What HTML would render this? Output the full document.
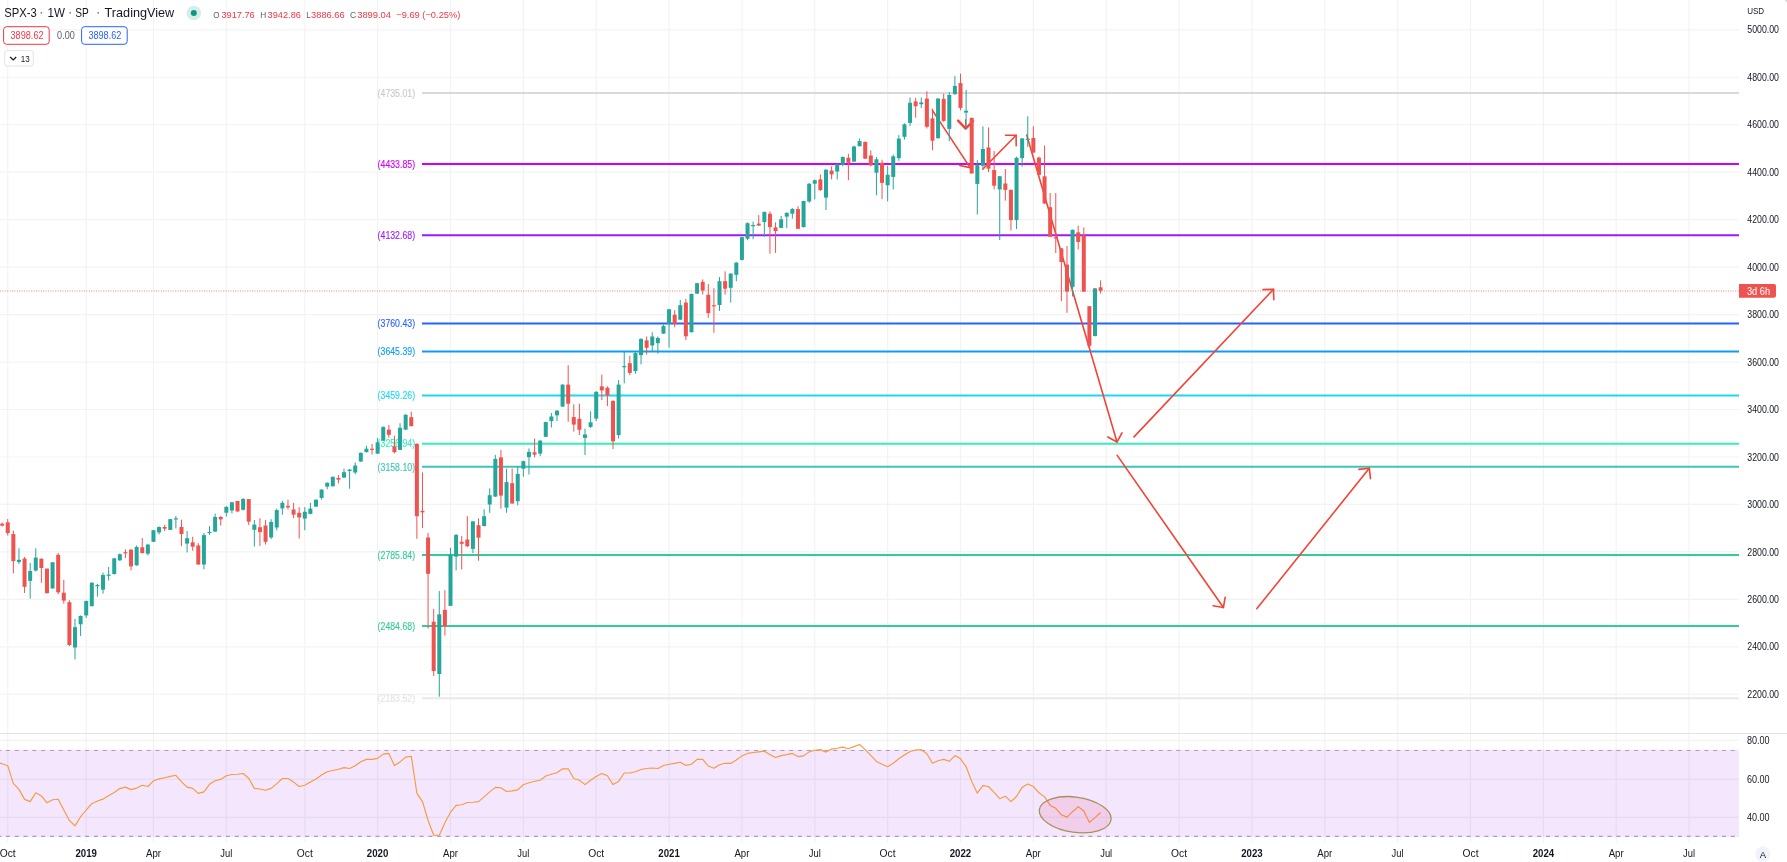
<!DOCTYPE html><html><head><meta charset="utf-8"><style>html,body{margin:0;padding:0;background:#fff;width:1787px;height:862px;overflow:hidden}svg{display:block;will-change:transform}text{font-family:"Liberation Sans",sans-serif}</style></head><body>
<svg width="1787" height="862" viewBox="0 0 1787 862">
<rect width="1787" height="862" fill="#fff"/>
<line x1="7.74" y1="0" x2="7.74" y2="842.6" stroke="#f3f3f3" stroke-width="1.2"/>
<line x1="86.21" y1="0" x2="86.21" y2="842.6" stroke="#f3f3f3" stroke-width="1.2"/>
<line x1="153.46" y1="0" x2="153.46" y2="842.6" stroke="#f3f3f3" stroke-width="1.2"/>
<line x1="226.32" y1="0" x2="226.32" y2="842.6" stroke="#f3f3f3" stroke-width="1.2"/>
<line x1="304.78" y1="0" x2="304.78" y2="842.6" stroke="#f3f3f3" stroke-width="1.2"/>
<line x1="377.63" y1="0" x2="377.63" y2="842.6" stroke="#f3f3f3" stroke-width="1.2"/>
<line x1="450.49" y1="0" x2="450.49" y2="842.6" stroke="#f3f3f3" stroke-width="1.2"/>
<line x1="523.35" y1="0" x2="523.35" y2="842.6" stroke="#f3f3f3" stroke-width="1.2"/>
<line x1="596.21" y1="0" x2="596.21" y2="842.6" stroke="#f3f3f3" stroke-width="1.2"/>
<line x1="669.06" y1="0" x2="669.06" y2="842.6" stroke="#f3f3f3" stroke-width="1.2"/>
<line x1="741.92" y1="0" x2="741.92" y2="842.6" stroke="#f3f3f3" stroke-width="1.2"/>
<line x1="814.78" y1="0" x2="814.78" y2="842.6" stroke="#f3f3f3" stroke-width="1.2"/>
<line x1="887.64" y1="0" x2="887.64" y2="842.6" stroke="#f3f3f3" stroke-width="1.2"/>
<line x1="960.49" y1="0" x2="960.49" y2="842.6" stroke="#f3f3f3" stroke-width="1.2"/>
<line x1="1033.35" y1="0" x2="1033.35" y2="842.6" stroke="#f3f3f3" stroke-width="1.2"/>
<line x1="1106.21" y1="0" x2="1106.21" y2="842.6" stroke="#f3f3f3" stroke-width="1.2"/>
<line x1="1179.06" y1="0" x2="1179.06" y2="842.6" stroke="#f3f3f3" stroke-width="1.2"/>
<line x1="1251.92" y1="0" x2="1251.92" y2="842.6" stroke="#f3f3f3" stroke-width="1.2"/>
<line x1="1324.78" y1="0" x2="1324.78" y2="842.6" stroke="#f3f3f3" stroke-width="1.2"/>
<line x1="1397.64" y1="0" x2="1397.64" y2="842.6" stroke="#f3f3f3" stroke-width="1.2"/>
<line x1="1470.49" y1="0" x2="1470.49" y2="842.6" stroke="#f3f3f3" stroke-width="1.2"/>
<line x1="1543.35" y1="0" x2="1543.35" y2="842.6" stroke="#f3f3f3" stroke-width="1.2"/>
<line x1="1616.21" y1="0" x2="1616.21" y2="842.6" stroke="#f3f3f3" stroke-width="1.2"/>
<line x1="1689.06" y1="0" x2="1689.06" y2="842.6" stroke="#f3f3f3" stroke-width="1.2"/>
<line x1="0" y1="29.80" x2="1739" y2="29.80" stroke="#f3f3f3" stroke-width="1.2"/>
<line x1="0" y1="77.26" x2="1739" y2="77.26" stroke="#f3f3f3" stroke-width="1.2"/>
<line x1="0" y1="124.73" x2="1739" y2="124.73" stroke="#f3f3f3" stroke-width="1.2"/>
<line x1="0" y1="172.19" x2="1739" y2="172.19" stroke="#f3f3f3" stroke-width="1.2"/>
<line x1="0" y1="219.66" x2="1739" y2="219.66" stroke="#f3f3f3" stroke-width="1.2"/>
<line x1="0" y1="267.12" x2="1739" y2="267.12" stroke="#f3f3f3" stroke-width="1.2"/>
<line x1="0" y1="314.58" x2="1739" y2="314.58" stroke="#f3f3f3" stroke-width="1.2"/>
<line x1="0" y1="362.05" x2="1739" y2="362.05" stroke="#f3f3f3" stroke-width="1.2"/>
<line x1="0" y1="409.51" x2="1739" y2="409.51" stroke="#f3f3f3" stroke-width="1.2"/>
<line x1="0" y1="456.98" x2="1739" y2="456.98" stroke="#f3f3f3" stroke-width="1.2"/>
<line x1="0" y1="504.44" x2="1739" y2="504.44" stroke="#f3f3f3" stroke-width="1.2"/>
<line x1="0" y1="551.90" x2="1739" y2="551.90" stroke="#f3f3f3" stroke-width="1.2"/>
<line x1="0" y1="599.37" x2="1739" y2="599.37" stroke="#f3f3f3" stroke-width="1.2"/>
<line x1="0" y1="646.83" x2="1739" y2="646.83" stroke="#f3f3f3" stroke-width="1.2"/>
<line x1="0" y1="694.30" x2="1739" y2="694.30" stroke="#f3f3f3" stroke-width="1.2"/>
<rect x="0" y="749.7" width="1739" height="87.2" fill="#f3e6fd"/>
<line x1="0" y1="740.2" x2="1739" y2="740.2" stroke="#f0f0f0" stroke-width="1.1"/>
<line x1="0" y1="779.4" x2="1739" y2="779.4" stroke="#e6dcef" stroke-width="1.1"/>
<line x1="0" y1="817.4" x2="1739" y2="817.4" stroke="#e6dcef" stroke-width="1.1"/>
<line x1="7.74" y1="749.7" x2="7.74" y2="836.9" stroke="#e6dcf2" stroke-width="1.2"/>
<line x1="86.21" y1="749.7" x2="86.21" y2="836.9" stroke="#e6dcf2" stroke-width="1.2"/>
<line x1="153.46" y1="749.7" x2="153.46" y2="836.9" stroke="#e6dcf2" stroke-width="1.2"/>
<line x1="226.32" y1="749.7" x2="226.32" y2="836.9" stroke="#e6dcf2" stroke-width="1.2"/>
<line x1="304.78" y1="749.7" x2="304.78" y2="836.9" stroke="#e6dcf2" stroke-width="1.2"/>
<line x1="377.63" y1="749.7" x2="377.63" y2="836.9" stroke="#e6dcf2" stroke-width="1.2"/>
<line x1="450.49" y1="749.7" x2="450.49" y2="836.9" stroke="#e6dcf2" stroke-width="1.2"/>
<line x1="523.35" y1="749.7" x2="523.35" y2="836.9" stroke="#e6dcf2" stroke-width="1.2"/>
<line x1="596.21" y1="749.7" x2="596.21" y2="836.9" stroke="#e6dcf2" stroke-width="1.2"/>
<line x1="669.06" y1="749.7" x2="669.06" y2="836.9" stroke="#e6dcf2" stroke-width="1.2"/>
<line x1="741.92" y1="749.7" x2="741.92" y2="836.9" stroke="#e6dcf2" stroke-width="1.2"/>
<line x1="814.78" y1="749.7" x2="814.78" y2="836.9" stroke="#e6dcf2" stroke-width="1.2"/>
<line x1="887.64" y1="749.7" x2="887.64" y2="836.9" stroke="#e6dcf2" stroke-width="1.2"/>
<line x1="960.49" y1="749.7" x2="960.49" y2="836.9" stroke="#e6dcf2" stroke-width="1.2"/>
<line x1="1033.35" y1="749.7" x2="1033.35" y2="836.9" stroke="#e6dcf2" stroke-width="1.2"/>
<line x1="1106.21" y1="749.7" x2="1106.21" y2="836.9" stroke="#e6dcf2" stroke-width="1.2"/>
<line x1="1179.06" y1="749.7" x2="1179.06" y2="836.9" stroke="#e6dcf2" stroke-width="1.2"/>
<line x1="1251.92" y1="749.7" x2="1251.92" y2="836.9" stroke="#e6dcf2" stroke-width="1.2"/>
<line x1="1324.78" y1="749.7" x2="1324.78" y2="836.9" stroke="#e6dcf2" stroke-width="1.2"/>
<line x1="1397.64" y1="749.7" x2="1397.64" y2="836.9" stroke="#e6dcf2" stroke-width="1.2"/>
<line x1="1470.49" y1="749.7" x2="1470.49" y2="836.9" stroke="#e6dcf2" stroke-width="1.2"/>
<line x1="1543.35" y1="749.7" x2="1543.35" y2="836.9" stroke="#e6dcf2" stroke-width="1.2"/>
<line x1="1616.21" y1="749.7" x2="1616.21" y2="836.9" stroke="#e6dcf2" stroke-width="1.2"/>
<line x1="1689.06" y1="749.7" x2="1689.06" y2="836.9" stroke="#e6dcf2" stroke-width="1.2"/>
<line x1="0" y1="750.5" x2="1739" y2="750.5" stroke="#a99fb8" stroke-width="1.1" stroke-dasharray="4.1 4.7" stroke-dashoffset="2.9"/>
<line x1="0" y1="836.4" x2="1739" y2="836.4" stroke="#a99fb8" stroke-width="1.1" stroke-dasharray="4.1 4.7" stroke-dashoffset="2.9"/>
<line x1="0" y1="733.5" x2="1787" y2="733.5" stroke="#dfe2ec" stroke-width="1"/>
<line x1="422" y1="92.9" x2="1739" y2="92.9" stroke="#d9d9d9" stroke-width="2"/>
<text x="377.6" y="96.6" font-size="10.2" fill="#c8c8c8" stroke="#c8c8c8" stroke-width="0.12" textLength="37.5" lengthAdjust="spacingAndGlyphs">(4735.01)</text>
<line x1="422" y1="164.1" x2="1739" y2="164.1" stroke="#cc00ff" stroke-width="2"/>
<text x="377.6" y="167.8" font-size="10.2" fill="#cc00ff" stroke="#cc00ff" stroke-width="0.12" textLength="37.5" lengthAdjust="spacingAndGlyphs">(4433.85)</text>
<line x1="422" y1="235.2" x2="1739" y2="235.2" stroke="#9c1aff" stroke-width="2"/>
<text x="377.6" y="238.9" font-size="10.2" fill="#9c1aff" stroke="#9c1aff" stroke-width="0.12" textLength="37.5" lengthAdjust="spacingAndGlyphs">(4132.68)</text>
<line x1="422" y1="323.4" x2="1739" y2="323.4" stroke="#2962ff" stroke-width="2"/>
<text x="377.6" y="327.1" font-size="10.2" fill="#2962ff" stroke="#2962ff" stroke-width="0.12" textLength="37.5" lengthAdjust="spacingAndGlyphs">(3760.43)</text>
<line x1="422" y1="351.4" x2="1739" y2="351.4" stroke="#0f9cf5" stroke-width="2"/>
<text x="377.6" y="355.1" font-size="10.2" fill="#0f9cf5" stroke="#0f9cf5" stroke-width="0.12" textLength="37.5" lengthAdjust="spacingAndGlyphs">(3645.39)</text>
<line x1="422" y1="395.6" x2="1739" y2="395.6" stroke="#1fd6f5" stroke-width="2"/>
<text x="377.6" y="399.3" font-size="10.2" fill="#1fd6f5" stroke="#1fd6f5" stroke-width="0.12" textLength="37.5" lengthAdjust="spacingAndGlyphs">(3459.26)</text>
<line x1="422" y1="443.7" x2="1739" y2="443.7" stroke="#33f0bb" stroke-width="2"/>
<text x="377.6" y="447.4" font-size="10.2" fill="#33f0bb" stroke="#33f0bb" stroke-width="0.12" textLength="37.5" lengthAdjust="spacingAndGlyphs">(3256.94)</text>
<line x1="422" y1="466.8" x2="1739" y2="466.8" stroke="#3ec4b6" stroke-width="2"/>
<text x="377.6" y="470.5" font-size="10.2" fill="#3ec4b6" stroke="#3ec4b6" stroke-width="0.12" textLength="37.5" lengthAdjust="spacingAndGlyphs">(3158.10)</text>
<line x1="422" y1="554.9" x2="1739" y2="554.9" stroke="#33cc99" stroke-width="2"/>
<text x="377.6" y="558.6" font-size="10.2" fill="#33cc99" stroke="#33cc99" stroke-width="0.12" textLength="37.5" lengthAdjust="spacingAndGlyphs">(2785.84)</text>
<line x1="422" y1="625.9" x2="1739" y2="625.9" stroke="#33cc99" stroke-width="2"/>
<text x="377.6" y="629.6" font-size="10.2" fill="#33cc99" stroke="#33cc99" stroke-width="0.12" textLength="37.5" lengthAdjust="spacingAndGlyphs">(2484.68)</text>
<line x1="422" y1="698.2" x2="1739" y2="698.2" stroke="#e8e8e8" stroke-width="2"/>
<text x="377.6" y="701.9" font-size="10.2" fill="#e3e3e3" stroke="#e3e3e3" stroke-width="0.12" textLength="37.5" lengthAdjust="spacingAndGlyphs">(2183.52)</text>
<line x1="932.3" y1="110.1" x2="970.1" y2="167.6" stroke="#f44336" stroke-width="1.6" stroke-linecap="round"/>
<polyline points="959.8,165.5 970.1,167.6 972.2,157.3" fill="none" stroke="#f44336" stroke-width="1.6" stroke-linecap="round" stroke-linejoin="round"/>
<line x1="965.6" y1="119.3" x2="965.7" y2="129" stroke="#f44336" stroke-width="1.2"/>
<polyline points="958.1,120.6 965.7,128.6 973,121" fill="none" stroke="#f44336" stroke-width="2.4" stroke-linecap="round" stroke-linejoin="round"/>
<line x1="982.7" y1="169.2" x2="1016.1" y2="135.2" stroke="#f44336" stroke-width="1.6" stroke-linecap="round"/>
<polyline points="1016.2,145.7 1016.1,135.2 1005.6,135.3" fill="none" stroke="#f44336" stroke-width="1.6" stroke-linecap="round" stroke-linejoin="round"/>
<line x1="1026.7" y1="135" x2="1117" y2="442" stroke="#f44336" stroke-width="1.6" stroke-linecap="round"/>
<polyline points="1107.8,437.0 1117,442 1122.0,432.8" fill="none" stroke="#f44336" stroke-width="1.6" stroke-linecap="round" stroke-linejoin="round"/>
<line x1="1134" y1="436.9" x2="1273.5" y2="289.3" stroke="#f44336" stroke-width="1.6" stroke-linecap="round"/>
<polyline points="1273.8,299.8 1273.5,289.3 1263.0,289.6" fill="none" stroke="#f44336" stroke-width="1.6" stroke-linecap="round" stroke-linejoin="round"/>
<line x1="1117.2" y1="455.4" x2="1223.4" y2="607.5" stroke="#f44336" stroke-width="1.6" stroke-linecap="round"/>
<polyline points="1213.1,605.7 1223.4,607.5 1225.2,597.2" fill="none" stroke="#f44336" stroke-width="1.6" stroke-linecap="round" stroke-linejoin="round"/>
<line x1="1256.9" y1="608.6" x2="1369.3" y2="468.2" stroke="#f44336" stroke-width="1.6" stroke-linecap="round"/>
<polyline points="1370.5,478.6 1369.3,468.2 1358.9,469.4" fill="none" stroke="#f44336" stroke-width="1.6" stroke-linecap="round" stroke-linejoin="round"/>
<rect x="1.64" y="522.5" width="1" height="4.0" fill="#ef5350"/>
<rect x="0.14" y="523.7" width="4" height="1.9" fill="#ef5350"/>
<rect x="7.24" y="519.0" width="1" height="16.5" fill="#ef5350"/>
<rect x="5.74" y="522.3" width="4" height="10.8" fill="#ef5350"/>
<rect x="12.85" y="530.6" width="1" height="42.8" fill="#ef5350"/>
<rect x="11.35" y="534.1" width="4" height="27.0" fill="#ef5350"/>
<rect x="18.45" y="548.3" width="1" height="15.8" fill="#26a69a"/>
<rect x="16.95" y="559.8" width="4" height="2.3" fill="#26a69a"/>
<rect x="24.06" y="557.0" width="1" height="36.0" fill="#ef5350"/>
<rect x="22.56" y="558.6" width="4" height="28.2" fill="#ef5350"/>
<rect x="29.66" y="563.0" width="1" height="35.6" fill="#26a69a"/>
<rect x="28.16" y="571.0" width="4" height="9.9" fill="#26a69a"/>
<rect x="35.27" y="548.3" width="1" height="23.1" fill="#26a69a"/>
<rect x="33.77" y="557.6" width="4" height="13.0" fill="#26a69a"/>
<rect x="40.87" y="558.2" width="1" height="24.6" fill="#ef5350"/>
<rect x="39.37" y="558.8" width="4" height="9.2" fill="#ef5350"/>
<rect x="46.48" y="568.6" width="1" height="25.0" fill="#ef5350"/>
<rect x="44.98" y="568.6" width="4" height="24.5" fill="#ef5350"/>
<rect x="52.08" y="562.0" width="1" height="26.8" fill="#26a69a"/>
<rect x="50.58" y="562.3" width="4" height="26.1" fill="#26a69a"/>
<rect x="57.68" y="552.9" width="1" height="41.4" fill="#ef5350"/>
<rect x="56.18" y="554.8" width="4" height="37.5" fill="#ef5350"/>
<rect x="63.29" y="579.9" width="1" height="23.7" fill="#ef5350"/>
<rect x="61.79" y="592.7" width="4" height="7.9" fill="#ef5350"/>
<rect x="68.89" y="600.2" width="1" height="45.8" fill="#ef5350"/>
<rect x="67.39" y="602.2" width="4" height="42.8" fill="#ef5350"/>
<rect x="74.50" y="618.9" width="1" height="40.5" fill="#26a69a"/>
<rect x="73.00" y="627.2" width="4" height="20.3" fill="#26a69a"/>
<rect x="80.10" y="615.4" width="1" height="20.6" fill="#26a69a"/>
<rect x="78.60" y="616.0" width="4" height="8.3" fill="#26a69a"/>
<rect x="85.71" y="600.6" width="1" height="17.4" fill="#26a69a"/>
<rect x="84.21" y="601.0" width="4" height="14.4" fill="#26a69a"/>
<rect x="91.31" y="582.0" width="1" height="24.5" fill="#26a69a"/>
<rect x="89.81" y="582.8" width="4" height="23.3" fill="#26a69a"/>
<rect x="96.91" y="583.8" width="1" height="12.8" fill="#26a69a"/>
<rect x="95.41" y="585.0" width="4" height="1.2" fill="#26a69a"/>
<rect x="102.52" y="572.6" width="1" height="21.1" fill="#26a69a"/>
<rect x="101.02" y="575.0" width="4" height="14.7" fill="#26a69a"/>
<rect x="108.12" y="567.0" width="1" height="13.5" fill="#26a69a"/>
<rect x="106.62" y="574.6" width="4" height="1.2" fill="#26a69a"/>
<rect x="113.73" y="557.8" width="1" height="16.8" fill="#26a69a"/>
<rect x="112.23" y="558.4" width="4" height="15.6" fill="#26a69a"/>
<rect x="119.33" y="553.5" width="1" height="7.5" fill="#26a69a"/>
<rect x="117.83" y="554.2" width="4" height="6.1" fill="#26a69a"/>
<rect x="124.94" y="549.4" width="1" height="8.6" fill="#ef5350"/>
<rect x="123.44" y="552.2" width="4" height="1.2" fill="#ef5350"/>
<rect x="130.54" y="549.4" width="1" height="21.1" fill="#ef5350"/>
<rect x="129.04" y="549.6" width="4" height="16.8" fill="#ef5350"/>
<rect x="136.15" y="545.5" width="1" height="20.3" fill="#26a69a"/>
<rect x="134.65" y="547.0" width="4" height="18.3" fill="#26a69a"/>
<rect x="141.75" y="538.0" width="1" height="15.3" fill="#ef5350"/>
<rect x="140.25" y="547.3" width="4" height="5.8" fill="#ef5350"/>
<rect x="147.35" y="543.8" width="1" height="11.6" fill="#26a69a"/>
<rect x="145.85" y="544.6" width="4" height="9.1" fill="#26a69a"/>
<rect x="152.96" y="530.0" width="1" height="12.0" fill="#26a69a"/>
<rect x="151.46" y="530.2" width="4" height="11.6" fill="#26a69a"/>
<rect x="158.56" y="526.4" width="1" height="8.1" fill="#26a69a"/>
<rect x="157.06" y="527.0" width="4" height="5.4" fill="#26a69a"/>
<rect x="164.17" y="524.7" width="1" height="6.3" fill="#ef5350"/>
<rect x="162.67" y="527.0" width="4" height="1.7" fill="#ef5350"/>
<rect x="169.77" y="519.0" width="1" height="11.0" fill="#26a69a"/>
<rect x="168.27" y="519.1" width="4" height="10.8" fill="#26a69a"/>
<rect x="175.38" y="516.0" width="1" height="12.5" fill="#26a69a"/>
<rect x="173.88" y="518.3" width="4" height="1.2" fill="#26a69a"/>
<rect x="180.98" y="519.7" width="1" height="26.4" fill="#ef5350"/>
<rect x="179.48" y="527.0" width="4" height="7.0" fill="#ef5350"/>
<rect x="186.59" y="531.0" width="1" height="21.5" fill="#26a69a"/>
<rect x="185.09" y="538.2" width="4" height="5.4" fill="#26a69a"/>
<rect x="192.19" y="536.8" width="1" height="14.0" fill="#ef5350"/>
<rect x="190.69" y="542.3" width="4" height="4.4" fill="#ef5350"/>
<rect x="197.79" y="543.2" width="1" height="21.5" fill="#ef5350"/>
<rect x="196.29" y="545.5" width="4" height="19.0" fill="#ef5350"/>
<rect x="203.40" y="533.1" width="1" height="36.2" fill="#26a69a"/>
<rect x="201.90" y="535.1" width="4" height="29.4" fill="#26a69a"/>
<rect x="209.00" y="526.2" width="1" height="8.6" fill="#26a69a"/>
<rect x="207.50" y="531.9" width="4" height="1.2" fill="#26a69a"/>
<rect x="214.61" y="513.6" width="1" height="18.4" fill="#26a69a"/>
<rect x="213.11" y="516.9" width="4" height="14.7" fill="#26a69a"/>
<rect x="220.21" y="516.2" width="1" height="9.3" fill="#ef5350"/>
<rect x="218.71" y="516.9" width="4" height="2.5" fill="#ef5350"/>
<rect x="225.82" y="506.1" width="1" height="10.4" fill="#26a69a"/>
<rect x="224.32" y="506.9" width="4" height="5.8" fill="#26a69a"/>
<rect x="231.42" y="501.8" width="1" height="11.6" fill="#26a69a"/>
<rect x="229.92" y="502.3" width="4" height="8.2" fill="#26a69a"/>
<rect x="237.02" y="501.0" width="1" height="10.5" fill="#ef5350"/>
<rect x="235.52" y="501.0" width="4" height="10.5" fill="#ef5350"/>
<rect x="242.63" y="498.2" width="1" height="12.3" fill="#26a69a"/>
<rect x="241.13" y="498.9" width="4" height="10.9" fill="#26a69a"/>
<rect x="248.23" y="499.1" width="1" height="26.1" fill="#ef5350"/>
<rect x="246.73" y="499.1" width="4" height="22.6" fill="#ef5350"/>
<rect x="253.84" y="520.0" width="1" height="26.6" fill="#26a69a"/>
<rect x="252.34" y="524.6" width="4" height="5.2" fill="#26a69a"/>
<rect x="259.44" y="518.2" width="1" height="27.9" fill="#ef5350"/>
<rect x="257.94" y="527.2" width="4" height="4.9" fill="#ef5350"/>
<rect x="265.05" y="520.0" width="1" height="24.6" fill="#ef5350"/>
<rect x="263.55" y="525.5" width="4" height="16.3" fill="#ef5350"/>
<rect x="270.65" y="519.2" width="1" height="19.9" fill="#26a69a"/>
<rect x="269.15" y="522.0" width="4" height="15.4" fill="#26a69a"/>
<rect x="276.26" y="508.6" width="1" height="21.8" fill="#26a69a"/>
<rect x="274.76" y="510.1" width="4" height="17.4" fill="#26a69a"/>
<rect x="281.86" y="500.8" width="1" height="13.9" fill="#26a69a"/>
<rect x="280.36" y="502.8" width="4" height="5.6" fill="#26a69a"/>
<rect x="287.46" y="499.7" width="1" height="9.8" fill="#ef5350"/>
<rect x="285.96" y="505.8" width="4" height="1.6" fill="#ef5350"/>
<rect x="293.07" y="502.8" width="1" height="15.4" fill="#ef5350"/>
<rect x="291.57" y="509.5" width="4" height="5.2" fill="#ef5350"/>
<rect x="298.67" y="507.2" width="1" height="31.3" fill="#ef5350"/>
<rect x="297.17" y="512.8" width="4" height="4.6" fill="#ef5350"/>
<rect x="304.28" y="507.2" width="1" height="23.0" fill="#26a69a"/>
<rect x="302.78" y="511.8" width="4" height="6.8" fill="#26a69a"/>
<rect x="309.88" y="502.8" width="1" height="11.4" fill="#26a69a"/>
<rect x="308.38" y="508.6" width="4" height="5.3" fill="#26a69a"/>
<rect x="315.49" y="499.5" width="1" height="7.5" fill="#26a69a"/>
<rect x="313.99" y="499.7" width="4" height="6.9" fill="#26a69a"/>
<rect x="321.09" y="489.2" width="1" height="10.5" fill="#26a69a"/>
<rect x="319.59" y="489.6" width="4" height="8.3" fill="#26a69a"/>
<rect x="326.70" y="482.3" width="1" height="6.9" fill="#26a69a"/>
<rect x="325.20" y="482.8" width="4" height="3.8" fill="#26a69a"/>
<rect x="332.30" y="476.5" width="1" height="10.0" fill="#26a69a"/>
<rect x="330.80" y="476.8" width="4" height="9.5" fill="#26a69a"/>
<rect x="337.90" y="475.0" width="1" height="8.4" fill="#ef5350"/>
<rect x="336.40" y="478.0" width="4" height="1.6" fill="#ef5350"/>
<rect x="343.51" y="468.7" width="1" height="9.3" fill="#26a69a"/>
<rect x="342.01" y="472.2" width="4" height="5.4" fill="#26a69a"/>
<rect x="349.11" y="469.0" width="1" height="19.7" fill="#26a69a"/>
<rect x="347.61" y="469.6" width="4" height="1.4" fill="#26a69a"/>
<rect x="354.72" y="462.4" width="1" height="11.8" fill="#26a69a"/>
<rect x="353.22" y="465.5" width="4" height="7.0" fill="#26a69a"/>
<rect x="360.32" y="452.5" width="1" height="9.5" fill="#26a69a"/>
<rect x="358.82" y="452.8" width="4" height="8.7" fill="#26a69a"/>
<rect x="365.93" y="445.8" width="1" height="6.6" fill="#26a69a"/>
<rect x="364.43" y="448.7" width="4" height="3.5" fill="#26a69a"/>
<rect x="371.53" y="443.9" width="1" height="10.6" fill="#ef5350"/>
<rect x="370.03" y="448.7" width="4" height="1.2" fill="#ef5350"/>
<rect x="377.13" y="438.0" width="1" height="16.0" fill="#26a69a"/>
<rect x="375.63" y="442.3" width="4" height="11.3" fill="#26a69a"/>
<rect x="382.74" y="426.5" width="1" height="14.5" fill="#26a69a"/>
<rect x="381.24" y="426.9" width="4" height="13.7" fill="#26a69a"/>
<rect x="388.34" y="425.0" width="1" height="12.7" fill="#ef5350"/>
<rect x="386.84" y="429.6" width="4" height="5.2" fill="#ef5350"/>
<rect x="393.95" y="435.7" width="1" height="17.7" fill="#ef5350"/>
<rect x="392.45" y="446.4" width="4" height="5.8" fill="#ef5350"/>
<rect x="399.55" y="423.2" width="1" height="26.9" fill="#26a69a"/>
<rect x="398.05" y="427.8" width="4" height="22.1" fill="#26a69a"/>
<rect x="405.16" y="413.9" width="1" height="16.0" fill="#26a69a"/>
<rect x="403.66" y="414.8" width="4" height="14.8" fill="#26a69a"/>
<rect x="410.76" y="411.6" width="1" height="14.9" fill="#ef5350"/>
<rect x="409.26" y="417.2" width="4" height="8.9" fill="#ef5350"/>
<rect x="416.37" y="443.5" width="1" height="95.3" fill="#ef5350"/>
<rect x="414.87" y="443.8" width="4" height="72.4" fill="#ef5350"/>
<rect x="421.97" y="472.4" width="1" height="55.8" fill="#ef5350"/>
<rect x="420.47" y="510.9" width="4" height="1.5" fill="#ef5350"/>
<rect x="427.57" y="533.0" width="1" height="95.6" fill="#ef5350"/>
<rect x="426.07" y="537.5" width="4" height="36.3" fill="#ef5350"/>
<rect x="433.18" y="608.9" width="1" height="67.1" fill="#ef5350"/>
<rect x="431.68" y="621.7" width="4" height="49.3" fill="#ef5350"/>
<rect x="438.78" y="591.1" width="1" height="105.6" fill="#26a69a"/>
<rect x="437.28" y="614.4" width="4" height="59.6" fill="#26a69a"/>
<rect x="444.39" y="590.2" width="1" height="45.3" fill="#ef5350"/>
<rect x="442.89" y="609.9" width="4" height="16.4" fill="#ef5350"/>
<rect x="449.99" y="547.8" width="1" height="58.2" fill="#26a69a"/>
<rect x="448.49" y="554.7" width="4" height="51.2" fill="#26a69a"/>
<rect x="455.60" y="534.0" width="1" height="36.4" fill="#26a69a"/>
<rect x="454.10" y="534.9" width="4" height="21.7" fill="#26a69a"/>
<rect x="461.20" y="535.9" width="1" height="33.5" fill="#ef5350"/>
<rect x="459.70" y="541.8" width="4" height="2.0" fill="#ef5350"/>
<rect x="466.81" y="516.2" width="1" height="30.9" fill="#ef5350"/>
<rect x="465.31" y="539.5" width="4" height="6.8" fill="#ef5350"/>
<rect x="472.41" y="521.0" width="1" height="32.1" fill="#26a69a"/>
<rect x="470.91" y="521.4" width="4" height="27.5" fill="#26a69a"/>
<rect x="478.01" y="518.4" width="1" height="42.3" fill="#ef5350"/>
<rect x="476.51" y="525.2" width="4" height="12.5" fill="#ef5350"/>
<rect x="483.62" y="509.4" width="1" height="17.1" fill="#26a69a"/>
<rect x="482.12" y="516.2" width="4" height="9.8" fill="#26a69a"/>
<rect x="489.22" y="488.4" width="1" height="24.4" fill="#26a69a"/>
<rect x="487.72" y="495.2" width="4" height="9.3" fill="#26a69a"/>
<rect x="494.83" y="454.8" width="1" height="42.2" fill="#26a69a"/>
<rect x="493.33" y="458.9" width="4" height="37.7" fill="#26a69a"/>
<rect x="500.43" y="449.9" width="1" height="58.8" fill="#ef5350"/>
<rect x="498.93" y="457.4" width="4" height="38.2" fill="#ef5350"/>
<rect x="506.04" y="468.7" width="1" height="44.1" fill="#26a69a"/>
<rect x="504.54" y="482.1" width="4" height="25.5" fill="#26a69a"/>
<rect x="511.64" y="468.5" width="1" height="35.3" fill="#ef5350"/>
<rect x="510.14" y="483.2" width="4" height="20.3" fill="#ef5350"/>
<rect x="517.24" y="466.2" width="1" height="39.1" fill="#26a69a"/>
<rect x="515.74" y="473.9" width="4" height="27.3" fill="#26a69a"/>
<rect x="522.85" y="460.6" width="1" height="16.2" fill="#26a69a"/>
<rect x="521.35" y="461.2" width="4" height="7.5" fill="#26a69a"/>
<rect x="528.45" y="448.4" width="1" height="26.1" fill="#26a69a"/>
<rect x="526.95" y="451.9" width="4" height="5.2" fill="#26a69a"/>
<rect x="534.06" y="438.6" width="1" height="18.8" fill="#ef5350"/>
<rect x="532.56" y="452.3" width="4" height="2.3" fill="#ef5350"/>
<rect x="539.66" y="440.3" width="1" height="15.9" fill="#26a69a"/>
<rect x="538.16" y="440.6" width="4" height="13.0" fill="#26a69a"/>
<rect x="545.27" y="421.8" width="1" height="15.2" fill="#26a69a"/>
<rect x="543.77" y="422.1" width="4" height="14.7" fill="#26a69a"/>
<rect x="550.87" y="413.0" width="1" height="14.5" fill="#26a69a"/>
<rect x="549.37" y="416.5" width="4" height="4.6" fill="#26a69a"/>
<rect x="556.48" y="410.1" width="1" height="11.0" fill="#26a69a"/>
<rect x="554.98" y="410.7" width="4" height="4.6" fill="#26a69a"/>
<rect x="562.08" y="384.3" width="1" height="22.7" fill="#26a69a"/>
<rect x="560.58" y="384.6" width="4" height="22.0" fill="#26a69a"/>
<rect x="567.68" y="365.2" width="1" height="56.5" fill="#ef5350"/>
<rect x="566.18" y="384.6" width="4" height="19.1" fill="#ef5350"/>
<rect x="573.29" y="404.3" width="1" height="27.3" fill="#ef5350"/>
<rect x="571.79" y="417.1" width="4" height="7.5" fill="#ef5350"/>
<rect x="578.89" y="403.7" width="1" height="31.3" fill="#ef5350"/>
<rect x="577.39" y="418.8" width="4" height="11.0" fill="#ef5350"/>
<rect x="584.50" y="428.7" width="1" height="26.3" fill="#26a69a"/>
<rect x="583.00" y="434.5" width="4" height="3.4" fill="#26a69a"/>
<rect x="590.10" y="411.3" width="1" height="16.8" fill="#26a69a"/>
<rect x="588.60" y="422.3" width="4" height="4.6" fill="#26a69a"/>
<rect x="595.71" y="391.0" width="1" height="30.1" fill="#26a69a"/>
<rect x="594.21" y="391.9" width="4" height="26.7" fill="#26a69a"/>
<rect x="601.31" y="374.7" width="1" height="25.5" fill="#ef5350"/>
<rect x="599.81" y="386.3" width="4" height="4.1" fill="#ef5350"/>
<rect x="606.92" y="386.3" width="1" height="19.7" fill="#ef5350"/>
<rect x="605.42" y="387.7" width="4" height="7.7" fill="#ef5350"/>
<rect x="612.52" y="400.5" width="1" height="48.5" fill="#ef5350"/>
<rect x="611.02" y="400.8" width="4" height="40.6" fill="#ef5350"/>
<rect x="618.12" y="380.0" width="1" height="58.5" fill="#26a69a"/>
<rect x="616.62" y="384.6" width="4" height="50.4" fill="#26a69a"/>
<rect x="623.73" y="351.6" width="1" height="31.7" fill="#26a69a"/>
<rect x="622.23" y="366.1" width="4" height="1.2" fill="#26a69a"/>
<rect x="629.33" y="355.7" width="1" height="19.5" fill="#ef5350"/>
<rect x="627.83" y="363.2" width="4" height="9.7" fill="#ef5350"/>
<rect x="634.94" y="352.2" width="1" height="21.5" fill="#26a69a"/>
<rect x="633.44" y="353.1" width="4" height="17.9" fill="#26a69a"/>
<rect x="640.54" y="338.3" width="1" height="26.1" fill="#26a69a"/>
<rect x="639.04" y="338.9" width="4" height="16.2" fill="#26a69a"/>
<rect x="646.15" y="336.5" width="1" height="18.0" fill="#ef5350"/>
<rect x="644.65" y="340.4" width="4" height="7.4" fill="#ef5350"/>
<rect x="651.75" y="332.3" width="1" height="18.7" fill="#26a69a"/>
<rect x="650.25" y="336.5" width="4" height="9.0" fill="#26a69a"/>
<rect x="657.35" y="336.5" width="1" height="17.1" fill="#26a69a"/>
<rect x="655.85" y="338.0" width="4" height="5.2" fill="#26a69a"/>
<rect x="662.96" y="324.4" width="1" height="9.5" fill="#26a69a"/>
<rect x="661.46" y="326.1" width="4" height="7.5" fill="#26a69a"/>
<rect x="668.56" y="308.7" width="1" height="38.9" fill="#26a69a"/>
<rect x="667.06" y="309.3" width="4" height="14.5" fill="#26a69a"/>
<rect x="674.17" y="310.2" width="1" height="17.1" fill="#ef5350"/>
<rect x="672.67" y="314.8" width="4" height="9.0" fill="#ef5350"/>
<rect x="679.77" y="300.0" width="1" height="20.0" fill="#26a69a"/>
<rect x="678.27" y="305.2" width="4" height="14.5" fill="#26a69a"/>
<rect x="685.38" y="298.9" width="1" height="41.1" fill="#ef5350"/>
<rect x="683.88" y="302.6" width="4" height="33.7" fill="#ef5350"/>
<rect x="690.98" y="293.5" width="1" height="39.0" fill="#26a69a"/>
<rect x="689.48" y="294.0" width="4" height="38.2" fill="#26a69a"/>
<rect x="696.59" y="283.0" width="1" height="11.0" fill="#26a69a"/>
<rect x="695.09" y="283.2" width="4" height="10.4" fill="#26a69a"/>
<rect x="702.19" y="279.4" width="1" height="15.1" fill="#ef5350"/>
<rect x="700.69" y="281.8" width="4" height="8.7" fill="#ef5350"/>
<rect x="707.79" y="284.1" width="1" height="33.6" fill="#ef5350"/>
<rect x="706.29" y="294.8" width="4" height="18.3" fill="#ef5350"/>
<rect x="713.40" y="288.1" width="1" height="44.7" fill="#ef5350"/>
<rect x="711.90" y="305.2" width="4" height="1.2" fill="#ef5350"/>
<rect x="719.00" y="277.1" width="1" height="33.7" fill="#26a69a"/>
<rect x="717.50" y="281.2" width="4" height="23.8" fill="#26a69a"/>
<rect x="724.61" y="271.3" width="1" height="23.2" fill="#ef5350"/>
<rect x="723.11" y="281.2" width="4" height="7.5" fill="#ef5350"/>
<rect x="730.21" y="273.3" width="1" height="29.3" fill="#26a69a"/>
<rect x="728.71" y="273.6" width="4" height="14.2" fill="#26a69a"/>
<rect x="735.82" y="262.3" width="1" height="18.9" fill="#26a69a"/>
<rect x="734.32" y="262.6" width="4" height="12.2" fill="#26a69a"/>
<rect x="741.42" y="237.0" width="1" height="23.5" fill="#26a69a"/>
<rect x="739.92" y="237.2" width="4" height="22.7" fill="#26a69a"/>
<rect x="747.03" y="222.4" width="1" height="17.8" fill="#26a69a"/>
<rect x="745.53" y="223.2" width="4" height="15.5" fill="#26a69a"/>
<rect x="752.63" y="221.6" width="1" height="17.6" fill="#26a69a"/>
<rect x="751.13" y="225.0" width="4" height="1.2" fill="#26a69a"/>
<rect x="758.23" y="215.1" width="1" height="10.8" fill="#ef5350"/>
<rect x="756.73" y="223.6" width="4" height="2.0" fill="#ef5350"/>
<rect x="763.84" y="211.4" width="1" height="25.5" fill="#26a69a"/>
<rect x="762.34" y="212.0" width="4" height="10.1" fill="#26a69a"/>
<rect x="769.44" y="211.4" width="1" height="42.3" fill="#ef5350"/>
<rect x="767.94" y="213.7" width="4" height="13.4" fill="#ef5350"/>
<rect x="775.05" y="222.4" width="1" height="30.5" fill="#ef5350"/>
<rect x="773.55" y="227.4" width="4" height="3.7" fill="#ef5350"/>
<rect x="780.65" y="216.0" width="1" height="12.2" fill="#26a69a"/>
<rect x="779.15" y="219.3" width="4" height="8.6" fill="#26a69a"/>
<rect x="786.26" y="212.6" width="1" height="15.6" fill="#26a69a"/>
<rect x="784.76" y="212.8" width="4" height="3.8" fill="#26a69a"/>
<rect x="791.86" y="208.2" width="1" height="10.4" fill="#26a69a"/>
<rect x="790.36" y="208.9" width="4" height="4.8" fill="#26a69a"/>
<rect x="797.46" y="206.2" width="1" height="22.8" fill="#ef5350"/>
<rect x="795.96" y="209.1" width="4" height="19.7" fill="#ef5350"/>
<rect x="803.07" y="200.8" width="1" height="26.7" fill="#26a69a"/>
<rect x="801.57" y="201.0" width="4" height="26.1" fill="#26a69a"/>
<rect x="808.67" y="183.0" width="1" height="19.7" fill="#26a69a"/>
<rect x="807.17" y="183.8" width="4" height="17.7" fill="#26a69a"/>
<rect x="814.28" y="179.6" width="1" height="19.7" fill="#26a69a"/>
<rect x="812.78" y="180.2" width="4" height="3.5" fill="#26a69a"/>
<rect x="819.88" y="174.4" width="1" height="16.6" fill="#ef5350"/>
<rect x="818.38" y="179.4" width="4" height="10.6" fill="#ef5350"/>
<rect x="825.49" y="169.2" width="1" height="40.8" fill="#26a69a"/>
<rect x="823.99" y="169.7" width="4" height="27.9" fill="#26a69a"/>
<rect x="831.09" y="166.3" width="1" height="13.1" fill="#ef5350"/>
<rect x="829.59" y="170.6" width="4" height="3.8" fill="#ef5350"/>
<rect x="836.70" y="163.6" width="1" height="15.8" fill="#26a69a"/>
<rect x="835.20" y="164.3" width="4" height="7.2" fill="#26a69a"/>
<rect x="842.30" y="156.4" width="1" height="9.9" fill="#26a69a"/>
<rect x="840.80" y="157.0" width="4" height="7.8" fill="#26a69a"/>
<rect x="847.90" y="153.9" width="1" height="26.3" fill="#ef5350"/>
<rect x="846.40" y="157.8" width="4" height="5.0" fill="#ef5350"/>
<rect x="853.51" y="145.7" width="1" height="16.3" fill="#26a69a"/>
<rect x="852.01" y="146.5" width="4" height="15.1" fill="#26a69a"/>
<rect x="859.11" y="138.4" width="1" height="8.1" fill="#26a69a"/>
<rect x="857.61" y="141.1" width="4" height="5.1" fill="#26a69a"/>
<rect x="864.72" y="141.5" width="1" height="17.5" fill="#ef5350"/>
<rect x="863.22" y="141.9" width="4" height="16.8" fill="#ef5350"/>
<rect x="870.32" y="150.4" width="1" height="15.9" fill="#ef5350"/>
<rect x="868.82" y="155.5" width="4" height="10.0" fill="#ef5350"/>
<rect x="875.93" y="157.0" width="1" height="38.3" fill="#26a69a"/>
<rect x="874.43" y="159.3" width="4" height="13.3" fill="#26a69a"/>
<rect x="881.53" y="159.7" width="1" height="39.4" fill="#ef5350"/>
<rect x="880.03" y="162.8" width="4" height="20.1" fill="#ef5350"/>
<rect x="887.14" y="165.8" width="1" height="35.5" fill="#26a69a"/>
<rect x="885.64" y="174.8" width="4" height="10.5" fill="#26a69a"/>
<rect x="892.74" y="154.6" width="1" height="34.9" fill="#26a69a"/>
<rect x="891.24" y="156.3" width="4" height="20.6" fill="#26a69a"/>
<rect x="898.34" y="135.1" width="1" height="25.8" fill="#26a69a"/>
<rect x="896.84" y="138.6" width="4" height="19.5" fill="#26a69a"/>
<rect x="903.95" y="123.3" width="1" height="16.3" fill="#26a69a"/>
<rect x="902.45" y="124.3" width="4" height="12.5" fill="#26a69a"/>
<rect x="909.55" y="97.5" width="1" height="28.6" fill="#26a69a"/>
<rect x="908.05" y="102.8" width="4" height="20.1" fill="#26a69a"/>
<rect x="915.16" y="97.8" width="1" height="19.9" fill="#ef5350"/>
<rect x="913.66" y="101.4" width="4" height="4.8" fill="#ef5350"/>
<rect x="920.76" y="97.5" width="1" height="10.5" fill="#26a69a"/>
<rect x="919.26" y="102.4" width="4" height="1.8" fill="#26a69a"/>
<rect x="926.37" y="91.3" width="1" height="37.2" fill="#ef5350"/>
<rect x="924.87" y="98.6" width="4" height="28.2" fill="#ef5350"/>
<rect x="931.97" y="108.7" width="1" height="41.5" fill="#ef5350"/>
<rect x="930.47" y="118.4" width="4" height="22.3" fill="#ef5350"/>
<rect x="937.57" y="98.2" width="1" height="40.4" fill="#26a69a"/>
<rect x="936.07" y="98.6" width="4" height="39.6" fill="#26a69a"/>
<rect x="943.18" y="93.6" width="1" height="28.3" fill="#ef5350"/>
<rect x="941.68" y="98.9" width="4" height="22.0" fill="#ef5350"/>
<rect x="948.78" y="92.2" width="1" height="49.2" fill="#26a69a"/>
<rect x="947.28" y="95.0" width="4" height="33.9" fill="#26a69a"/>
<rect x="954.39" y="76.1" width="1" height="18.4" fill="#26a69a"/>
<rect x="952.89" y="85.9" width="4" height="8.3" fill="#26a69a"/>
<rect x="959.99" y="73.6" width="1" height="36.7" fill="#ef5350"/>
<rect x="958.49" y="83.1" width="4" height="24.8" fill="#ef5350"/>
<rect x="965.60" y="89.8" width="1" height="39.2" fill="#26a69a"/>
<rect x="964.10" y="110.7" width="4" height="1.9" fill="#26a69a"/>
<rect x="971.20" y="117.5" width="1" height="56.3" fill="#ef5350"/>
<rect x="969.70" y="117.9" width="4" height="55.5" fill="#ef5350"/>
<rect x="976.81" y="160.2" width="1" height="54.3" fill="#26a69a"/>
<rect x="975.31" y="165.1" width="4" height="18.8" fill="#26a69a"/>
<rect x="982.41" y="126.3" width="1" height="41.7" fill="#26a69a"/>
<rect x="980.91" y="149.0" width="4" height="16.8" fill="#26a69a"/>
<rect x="988.01" y="127.4" width="1" height="44.6" fill="#ef5350"/>
<rect x="986.51" y="147.5" width="4" height="21.2" fill="#ef5350"/>
<rect x="993.62" y="151.1" width="1" height="38.3" fill="#ef5350"/>
<rect x="992.12" y="170.0" width="4" height="15.7" fill="#ef5350"/>
<rect x="999.22" y="176.0" width="1" height="64.0" fill="#26a69a"/>
<rect x="997.72" y="176.2" width="4" height="13.2" fill="#26a69a"/>
<rect x="1004.83" y="169.0" width="1" height="31.6" fill="#ef5350"/>
<rect x="1003.33" y="183.5" width="4" height="6.4" fill="#ef5350"/>
<rect x="1010.43" y="189.5" width="1" height="41.0" fill="#ef5350"/>
<rect x="1008.93" y="189.9" width="4" height="30.2" fill="#ef5350"/>
<rect x="1016.04" y="156.7" width="1" height="72.4" fill="#26a69a"/>
<rect x="1014.54" y="157.8" width="4" height="62.3" fill="#26a69a"/>
<rect x="1021.64" y="138.0" width="1" height="28.7" fill="#26a69a"/>
<rect x="1020.14" y="138.4" width="4" height="19.7" fill="#26a69a"/>
<rect x="1027.25" y="116.3" width="1" height="30.7" fill="#26a69a"/>
<rect x="1025.75" y="138.7" width="4" height="1.2" fill="#26a69a"/>
<rect x="1032.85" y="126.2" width="1" height="26.6" fill="#ef5350"/>
<rect x="1031.35" y="138.0" width="4" height="14.6" fill="#ef5350"/>
<rect x="1038.45" y="156.5" width="1" height="18.7" fill="#ef5350"/>
<rect x="1036.95" y="157.6" width="4" height="17.3" fill="#ef5350"/>
<rect x="1044.06" y="145.5" width="1" height="58.5" fill="#ef5350"/>
<rect x="1042.56" y="176.3" width="4" height="27.2" fill="#ef5350"/>
<rect x="1049.66" y="193.0" width="1" height="44.0" fill="#ef5350"/>
<rect x="1048.16" y="207.2" width="4" height="29.6" fill="#ef5350"/>
<rect x="1055.27" y="193.0" width="1" height="60.0" fill="#ef5350"/>
<rect x="1053.77" y="237.3" width="4" height="1.2" fill="#ef5350"/>
<rect x="1060.87" y="248.0" width="1" height="53.2" fill="#ef5350"/>
<rect x="1059.37" y="248.4" width="4" height="13.6" fill="#ef5350"/>
<rect x="1066.48" y="246.0" width="1" height="66.8" fill="#ef5350"/>
<rect x="1064.98" y="264.6" width="4" height="27.0" fill="#ef5350"/>
<rect x="1072.08" y="229.5" width="1" height="67.0" fill="#26a69a"/>
<rect x="1070.58" y="229.8" width="4" height="57.1" fill="#26a69a"/>
<rect x="1077.68" y="225.7" width="1" height="23.8" fill="#ef5350"/>
<rect x="1076.18" y="232.4" width="4" height="9.6" fill="#ef5350"/>
<rect x="1083.29" y="227.5" width="1" height="64.5" fill="#ef5350"/>
<rect x="1081.79" y="235.4" width="4" height="56.2" fill="#ef5350"/>
<rect x="1088.89" y="306.0" width="1" height="43.0" fill="#ef5350"/>
<rect x="1087.39" y="306.2" width="4" height="39.6" fill="#ef5350"/>
<rect x="1094.50" y="288.0" width="1" height="48.5" fill="#26a69a"/>
<rect x="1093.00" y="288.4" width="4" height="47.6" fill="#26a69a"/>
<rect x="1100.10" y="280.3" width="1" height="13.3" fill="#ef5350"/>
<rect x="1098.60" y="287.3" width="4" height="3.4" fill="#ef5350"/>
<line x1="0" y1="291.0" x2="1739" y2="291.0" stroke="#ef5350" stroke-opacity="0.7" stroke-width="1" stroke-dasharray="1 1.4"/>
<polyline points="-3.5,762.0 2.1,763.8 7.7,765.7 13.3,783.3 19.0,789.4 24.6,799.4 30.2,801.6 35.8,792.8 41.4,795.9 47.0,802.8 52.6,799.7 58.2,799.3 63.8,810.0 69.4,820.5 75.0,825.9 80.6,816.7 86.2,810.0 91.8,803.7 97.4,801.0 103.0,799.1 108.6,795.7 114.2,792.4 119.8,788.6 125.4,787.1 131.0,789.6 136.6,788.1 142.2,785.2 147.9,786.5 153.5,780.8 159.1,778.9 164.7,777.7 170.3,776.4 175.9,775.3 181.5,781.8 187.1,787.1 192.7,788.4 198.3,793.4 203.9,791.9 209.5,784.3 215.1,780.8 220.7,779.4 226.3,775.8 231.9,774.5 237.5,774.3 243.1,773.5 248.7,778.3 254.3,788.4 259.9,789.0 265.5,790.3 271.2,788.4 276.8,783.6 282.4,778.5 288.0,778.5 293.6,782.1 299.2,786.5 304.8,785.2 310.4,782.1 316.0,778.9 321.6,775.1 327.2,771.7 332.8,770.5 338.4,769.2 344.0,767.6 349.6,768.5 355.2,765.7 360.8,761.7 366.4,759.4 372.0,759.4 377.6,758.4 383.2,754.1 388.8,753.4 394.4,765.4 400.1,761.9 405.7,757.1 411.3,756.3 416.9,793.4 422.5,801.6 428.1,820.5 433.7,835.2 439.3,835.2 444.9,822.8 450.5,812.3 456.1,805.4 461.7,804.7 467.3,802.5 472.9,802.2 478.5,801.6 484.1,796.9 489.7,791.9 495.3,787.4 500.9,787.7 506.5,791.5 512.1,790.9 517.7,789.9 523.3,784.8 529.0,782.7 534.6,781.2 540.2,780.2 545.8,776.0 551.4,774.3 557.0,772.8 562.6,768.8 568.2,768.8 573.8,778.5 579.4,780.2 585.0,784.6 590.6,780.2 596.2,776.4 601.8,773.5 607.4,775.8 613.0,784.6 618.6,781.4 624.2,773.0 629.8,773.0 635.4,771.7 641.0,769.5 646.6,768.5 652.3,768.0 657.9,768.5 663.5,765.5 669.1,764.2 674.7,763.4 680.3,762.2 685.9,765.4 691.5,764.2 697.1,759.4 702.7,759.4 708.3,766.0 713.9,768.2 719.5,764.7 725.1,763.2 730.7,763.4 736.3,760.0 741.9,755.9 747.5,753.4 753.1,752.5 758.7,751.9 764.3,751.2 769.9,754.4 775.5,757.5 781.2,755.6 786.8,754.6 792.4,753.4 798.0,756.6 803.6,755.9 809.2,751.9 814.8,750.3 820.4,749.6 826.0,752.1 831.6,749.1 837.2,748.3 842.8,747.1 848.4,748.7 854.0,746.6 859.6,744.5 865.2,749.6 870.8,755.4 876.4,761.4 882.0,764.2 887.6,766.7 893.2,763.2 898.8,758.8 904.4,755.0 910.1,751.5 915.7,750.0 921.3,749.6 926.9,753.7 932.5,763.2 938.1,760.7 943.7,759.4 949.3,761.3 954.9,755.6 960.5,758.8 966.1,766.7 971.7,781.4 977.3,793.2 982.9,785.6 988.5,786.5 994.1,792.4 999.7,798.7 1005.3,796.2 1010.9,801.6 1016.5,796.5 1022.1,787.4 1027.7,784.0 1033.3,786.5 1039.0,792.8 1044.6,796.9 1050.2,805.4 1055.8,808.3 1061.4,814.8 1067.0,817.1 1072.6,811.7 1078.2,806.6 1083.8,811.0 1089.4,822.4 1095.0,817.6 1100.6,812.5" fill="none" stroke="#f79b42" stroke-width="1.15" stroke-linejoin="round"/>
<ellipse cx="1075.2" cy="814.7" rx="36.2" ry="17.6" transform="rotate(8 1075.2 814.7)" fill="#e91e63" fill-opacity="0.12" stroke="#a8915e" stroke-width="1.3"/>
<rect x="1739" y="0" width="48" height="733" fill="#fff"/>
<text x="1747.2" y="14.1" font-size="9.3" fill="#131722" textLength="17" lengthAdjust="spacingAndGlyphs">USD</text>
<text x="1747.3" y="33.4" font-size="10.3" fill="#131722" textLength="31.7" lengthAdjust="spacingAndGlyphs">5000.00</text>
<text x="1747.3" y="80.9" font-size="10.3" fill="#131722" textLength="31.7" lengthAdjust="spacingAndGlyphs">4800.00</text>
<text x="1747.3" y="128.3" font-size="10.3" fill="#131722" textLength="31.7" lengthAdjust="spacingAndGlyphs">4600.00</text>
<text x="1747.3" y="175.8" font-size="10.3" fill="#131722" textLength="31.7" lengthAdjust="spacingAndGlyphs">4400.00</text>
<text x="1747.3" y="223.3" font-size="10.3" fill="#131722" textLength="31.7" lengthAdjust="spacingAndGlyphs">4200.00</text>
<text x="1747.3" y="270.7" font-size="10.3" fill="#131722" textLength="31.7" lengthAdjust="spacingAndGlyphs">4000.00</text>
<text x="1747.3" y="318.2" font-size="10.3" fill="#131722" textLength="31.7" lengthAdjust="spacingAndGlyphs">3800.00</text>
<text x="1747.3" y="365.6" font-size="10.3" fill="#131722" textLength="31.7" lengthAdjust="spacingAndGlyphs">3600.00</text>
<text x="1747.3" y="413.1" font-size="10.3" fill="#131722" textLength="31.7" lengthAdjust="spacingAndGlyphs">3400.00</text>
<text x="1747.3" y="460.6" font-size="10.3" fill="#131722" textLength="31.7" lengthAdjust="spacingAndGlyphs">3200.00</text>
<text x="1747.3" y="508.0" font-size="10.3" fill="#131722" textLength="31.7" lengthAdjust="spacingAndGlyphs">3000.00</text>
<text x="1747.3" y="555.5" font-size="10.3" fill="#131722" textLength="31.7" lengthAdjust="spacingAndGlyphs">2800.00</text>
<text x="1747.3" y="603.0" font-size="10.3" fill="#131722" textLength="31.7" lengthAdjust="spacingAndGlyphs">2600.00</text>
<text x="1747.3" y="650.4" font-size="10.3" fill="#131722" textLength="31.7" lengthAdjust="spacingAndGlyphs">2400.00</text>
<text x="1747.3" y="697.9" font-size="10.3" fill="#131722" textLength="31.7" lengthAdjust="spacingAndGlyphs">2200.00</text>
<text x="1747" y="744.0" font-size="10.3" fill="#131722" textLength="22.6" lengthAdjust="spacingAndGlyphs">80.00</text>
<text x="1747" y="783.1" font-size="10.3" fill="#131722" textLength="22.6" lengthAdjust="spacingAndGlyphs">60.00</text>
<text x="1747" y="820.8" font-size="10.3" fill="#131722" textLength="22.6" lengthAdjust="spacingAndGlyphs">40.00</text>
<path d="M1739 283.9 H1774 Q1776 283.9 1776 285.9 V295.8 Q1776 297.8 1774 297.8 H1739 Z" fill="#ef5350"/>
<text x="1746.9" y="294.8" font-size="10.3" fill="#fff" textLength="23.2" lengthAdjust="spacingAndGlyphs">3d 6h</text>
<text x="7.7" y="857" font-size="10" fill="#131722" text-anchor="middle" textLength="16" lengthAdjust="spacingAndGlyphs">Oct</text>
<text x="86.2" y="857" font-size="10" fill="#131722" text-anchor="middle" font-weight="bold" textLength="21.5" lengthAdjust="spacingAndGlyphs">2019</text>
<text x="153.5" y="857" font-size="10" fill="#131722" text-anchor="middle" textLength="15" lengthAdjust="spacingAndGlyphs">Apr</text>
<text x="226.3" y="857" font-size="10" fill="#131722" text-anchor="middle" textLength="12" lengthAdjust="spacingAndGlyphs">Jul</text>
<text x="304.8" y="857" font-size="10" fill="#131722" text-anchor="middle" textLength="16" lengthAdjust="spacingAndGlyphs">Oct</text>
<text x="377.6" y="857" font-size="10" fill="#131722" text-anchor="middle" font-weight="bold" textLength="21.5" lengthAdjust="spacingAndGlyphs">2020</text>
<text x="450.5" y="857" font-size="10" fill="#131722" text-anchor="middle" textLength="15" lengthAdjust="spacingAndGlyphs">Apr</text>
<text x="523.3" y="857" font-size="10" fill="#131722" text-anchor="middle" textLength="12" lengthAdjust="spacingAndGlyphs">Jul</text>
<text x="596.2" y="857" font-size="10" fill="#131722" text-anchor="middle" textLength="16" lengthAdjust="spacingAndGlyphs">Oct</text>
<text x="669.1" y="857" font-size="10" fill="#131722" text-anchor="middle" font-weight="bold" textLength="21.5" lengthAdjust="spacingAndGlyphs">2021</text>
<text x="741.9" y="857" font-size="10" fill="#131722" text-anchor="middle" textLength="15" lengthAdjust="spacingAndGlyphs">Apr</text>
<text x="814.8" y="857" font-size="10" fill="#131722" text-anchor="middle" textLength="12" lengthAdjust="spacingAndGlyphs">Jul</text>
<text x="887.6" y="857" font-size="10" fill="#131722" text-anchor="middle" textLength="16" lengthAdjust="spacingAndGlyphs">Oct</text>
<text x="960.5" y="857" font-size="10" fill="#131722" text-anchor="middle" font-weight="bold" textLength="21.5" lengthAdjust="spacingAndGlyphs">2022</text>
<text x="1033.3" y="857" font-size="10" fill="#131722" text-anchor="middle" textLength="15" lengthAdjust="spacingAndGlyphs">Apr</text>
<text x="1106.2" y="857" font-size="10" fill="#131722" text-anchor="middle" textLength="12" lengthAdjust="spacingAndGlyphs">Jul</text>
<text x="1179.1" y="857" font-size="10" fill="#131722" text-anchor="middle" textLength="16" lengthAdjust="spacingAndGlyphs">Oct</text>
<text x="1251.9" y="857" font-size="10" fill="#131722" text-anchor="middle" font-weight="bold" textLength="21.5" lengthAdjust="spacingAndGlyphs">2023</text>
<text x="1324.8" y="857" font-size="10" fill="#131722" text-anchor="middle" textLength="15" lengthAdjust="spacingAndGlyphs">Apr</text>
<text x="1397.6" y="857" font-size="10" fill="#131722" text-anchor="middle" textLength="12" lengthAdjust="spacingAndGlyphs">Jul</text>
<text x="1470.5" y="857" font-size="10" fill="#131722" text-anchor="middle" textLength="16" lengthAdjust="spacingAndGlyphs">Oct</text>
<text x="1543.4" y="857" font-size="10" fill="#131722" text-anchor="middle" font-weight="bold" textLength="21.5" lengthAdjust="spacingAndGlyphs">2024</text>
<text x="1616.2" y="857" font-size="10" fill="#131722" text-anchor="middle" textLength="15" lengthAdjust="spacingAndGlyphs">Apr</text>
<text x="1689.1" y="857" font-size="10" fill="#131722" text-anchor="middle" textLength="12" lengthAdjust="spacingAndGlyphs">Jul</text>
<circle cx="1762.8" cy="854.1" r="7.6" fill="#f0f3fa"/>
<text x="1762.8" y="857.6" font-size="9.5" fill="#131722" text-anchor="middle">A</text>
<text x="4.2" y="17.1" font-size="13" fill="#131722" textLength="32.5" lengthAdjust="spacingAndGlyphs">SPX-3</text>
<circle cx="41.3" cy="12.8" r="0.9" fill="#787b86"/>
<text x="47.6" y="17.1" font-size="13" fill="#131722" textLength="17.4" lengthAdjust="spacingAndGlyphs">1W</text>
<circle cx="70.2" cy="12.8" r="0.9" fill="#787b86"/>
<text x="75.3" y="17.1" font-size="13" fill="#131722" textLength="13.5" lengthAdjust="spacingAndGlyphs">SP</text>
<circle cx="98.2" cy="12.8" r="0.9" fill="#787b86"/>
<text x="104.6" y="17.1" font-size="13" fill="#131722" textLength="69.6" lengthAdjust="spacingAndGlyphs">TradingView</text>
<circle cx="193.8" cy="13" r="7.3" fill="#d7ede9"/>
<circle cx="193.8" cy="13" r="3" fill="#089981"/>
<text x="213.3" y="17.9" font-size="9.2" fill="#5d606b" textLength="6.3" lengthAdjust="spacingAndGlyphs">O</text>
<text x="221.4" y="17.9" font-size="9.2" fill="#f23645" textLength="33.3" lengthAdjust="spacingAndGlyphs">3917.76</text>
<text x="260.3" y="17.9" font-size="9.2" fill="#5d606b" textLength="6" lengthAdjust="spacingAndGlyphs">H</text>
<text x="267.6" y="17.9" font-size="9.2" fill="#f23645" textLength="33.3" lengthAdjust="spacingAndGlyphs">3942.86</text>
<text x="306.3" y="17.9" font-size="9.2" fill="#5d606b" textLength="4.6" lengthAdjust="spacingAndGlyphs">L</text>
<text x="311.1" y="17.9" font-size="9.2" fill="#f23645" textLength="33.6" lengthAdjust="spacingAndGlyphs">3886.66</text>
<text x="350" y="17.9" font-size="9.2" fill="#5d606b" textLength="6.2" lengthAdjust="spacingAndGlyphs">C</text>
<text x="357.2" y="17.9" font-size="9.2" fill="#f23645" textLength="33.8" lengthAdjust="spacingAndGlyphs">3899.04</text>
<text x="396.2" y="17.9" font-size="9.2" fill="#f23645" textLength="64.2" lengthAdjust="spacingAndGlyphs">−9.69 (−0.25%)</text>
<rect x="3.6" y="26.7" width="45.6" height="17.6" rx="3" fill="#fff" stroke="#f23645" stroke-width="1"/>
<text x="10.5" y="39.2" font-size="10" fill="#f23645" textLength="33.1" lengthAdjust="spacingAndGlyphs">3898.62</text>
<text x="57.1" y="39.2" font-size="10" fill="#5d606b" textLength="17.7" lengthAdjust="spacingAndGlyphs">0.00</text>
<rect x="81.6" y="26.7" width="45.6" height="17.6" rx="3" fill="#fff" stroke="#2962ff" stroke-width="1"/>
<text x="88.4" y="39.2" font-size="10" fill="#2962ff" textLength="33" lengthAdjust="spacingAndGlyphs">3898.62</text>
<rect x="4.7" y="50.6" width="28.6" height="15.4" rx="2.5" fill="#fff" stroke="#e0e3eb" stroke-width="1"/>
<polyline points="10.2,57 13.2,60 16.2,57" fill="none" stroke="#131722" stroke-width="1.2"/>
<text x="20.7" y="61.6" font-size="9.2" fill="#131722" textLength="9" lengthAdjust="spacingAndGlyphs">13</text>
<circle cx="1787" cy="0" r="2" fill="#d5d7e3"/>
</svg></body></html>
